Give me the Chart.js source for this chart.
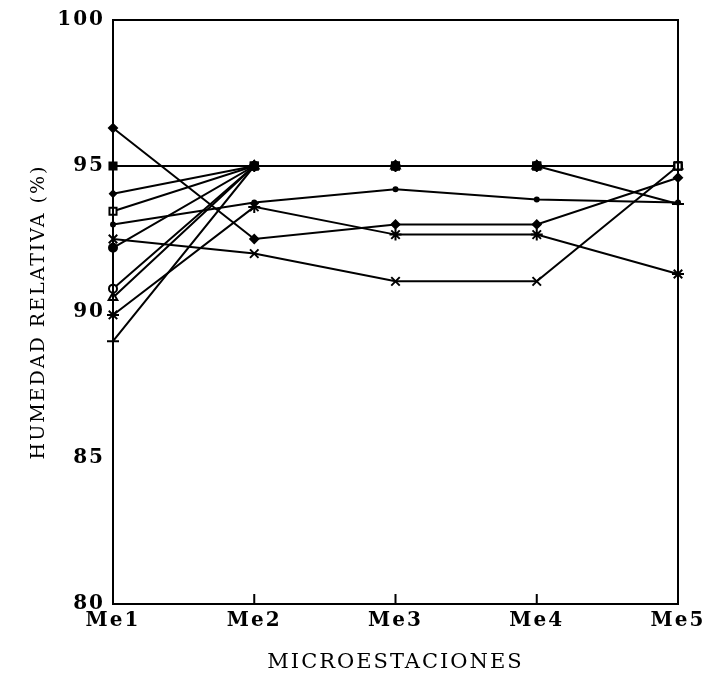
<!DOCTYPE html>
<html>
<head>
<meta charset="utf-8">
<script src="https://cdn.jsdelivr.net/npm/chart.js@4.4.1/dist/chart.umd.min.js"></script>
<style>
  html, body { margin: 0; padding: 0; background: #fff; }
  #wrap { width: 711px; height: 675px; }
</style>
</head>
<body>
<div id="wrap"><canvas id="humedad" width="711" height="675"></canvas></div>
<script>
/*------ data ------*/
const estaciones = ['Me1', 'Me2', 'Me3', 'Me4', 'Me5'];
const yTicks = [80, 85, 90, 95, 100];

const serieRombo     = [96.3, 92.5, 93.0, 93.0, 94.6];
const serieCuadrado  = [95.0, 95.0, 95.0, 95.0, 95.0];
const serieRomboChico = [94.05, 95.0, 95.0, 95.0, 95.0];
const serieCuadAb    = [93.45, 95.0, 95.0, 95.0, 95.0];
const seriePunto     = [93.0, 93.75, 94.2, 93.85, 93.75];
const serieEquis     = [92.5, 92.0, 91.05, 91.05, 95.0];
const serieCirculo   = [92.2, 95.0, 95.0, 95.0, 95.0];
const serieCircAb    = [90.8, 95.0, 95.0, 95.0, 95.0];
const serieTriangulo = [90.5, 95.0, 95.0, 95.0, 95.0];
const serieEstrella  = [89.9, 93.6, 92.65, 92.65, 91.3];
const serieCruz      = [89.0, 95.0, 95.0, 95.0, 93.7];

function serie(data, style, radius, fillColor) {
    return {
        data: data,
        borderColor: '#000',
        borderWidth: 2,
        backgroundColor: '#000',
        pointStyle: style,
        pointRadius: radius,
        pointBorderWidth: 2,
        pointBorderColor: '#000',
        pointBackgroundColor: fillColor,
        tension: 0,
        fill: false
    };
}

/*------ plugin: box + inner ticks ------*/
const marco = {
    id: 'marco',
    beforeDraw(chart) {
        chart.ctx.letterSpacing = '2px';
    },
    afterDatasetsDraw(chart) {
        const ctx = chart.ctx;
        const a = chart.chartArea;
        const x = chart.scales.x;
        ctx.save();
        ctx.strokeStyle = '#000';
        ctx.lineWidth = 2;
        ctx.strokeRect(a.left, a.top, a.right - a.left, a.bottom - a.top);
        ctx.beginPath();
        for (let i = 1; i < estaciones.length - 1; i++) {
            const px = x.getPixelForValue(i);
            ctx.moveTo(px, a.bottom);
            ctx.lineTo(px, a.bottom - 10);
        }
        ctx.stroke();
        ctx.restore();
    }
};

const serifFont = "'DejaVu Serif', serif";

const ctx = document.getElementById('humedad').getContext('2d');
const chart = new Chart(ctx, {
    type: 'line',
    data: {
        labels: estaciones,
        datasets: [
            serie(serieCuadAb, 'rect', 5, ['#fff', '#000', '#000', '#000', '#fff']),
            serie(serieRombo, 'rectRot', 4, '#000'),
            serie(serieRomboChico, 'rectRot', 3, '#000'),
            serie(seriePunto, 'circle', 2, '#000'),
            serie(serieEquis, 'crossRot', 6, '#fff'),
            serie(serieCirculo, 'circle', 4, '#000'),
            serie(serieCircAb, 'circle', 4, '#fff'),
            serie(serieTriangulo, 'triangle', 5, '#fff'),
            serie(serieEstrella, 'star', 6, '#fff'),
            serie(serieCruz, 'cross', 6, '#fff'),
            serie(serieCuadrado, 'rect', 5, '#000')
        ]
    },
    options: {
        responsive: false,
        animation: false,
        layout: { padding: { top: 18, right: 33, left: 0, bottom: 0 } },
        plugins: {
            legend: { display: false },
            tooltip: { enabled: false }
        },
        scales: {
            x: {
                type: 'category',
                offset: false,
                grid: { display: false, drawTicks: false },
                border: { display: false },
                ticks: {
                    color: '#000',
                    padding: 5,
                    maxRotation: 0,
                    font: { family: serifFont, size: 20, weight: 'bold' }
                },
                title: {
                    display: true,
                    text: 'MICROESTACIONES',
                    color: '#000',
                    padding: { top: 12, bottom: 0 },
                    font: { family: serifFont, size: 21 }
                },
                afterFit(scale) { scale.height = 71; }
            },
            y: {
                min: 80,
                max: 100,
                grid: { display: false, drawTicks: false },
                border: { display: false },
                afterBuildTicks(scale) {
                    scale.ticks = yTicks.map(v => ({ value: v }));
                },
                ticks: {
                    color: '#000',
                    padding: 8,
                    font: { family: serifFont, size: 20, weight: 'bold' }
                },
                title: {
                    display: true,
                    text: 'HUMEDAD RELATIVA (%)',
                    color: '#000',
                    padding: { top: 28, bottom: 0 },
                    font: { family: serifFont, size: 19 }
                },
                afterFit(scale) { scale.width = 113; }
            }
        }
    },
    plugins: [marco]
});
</script>
</body>
</html>
